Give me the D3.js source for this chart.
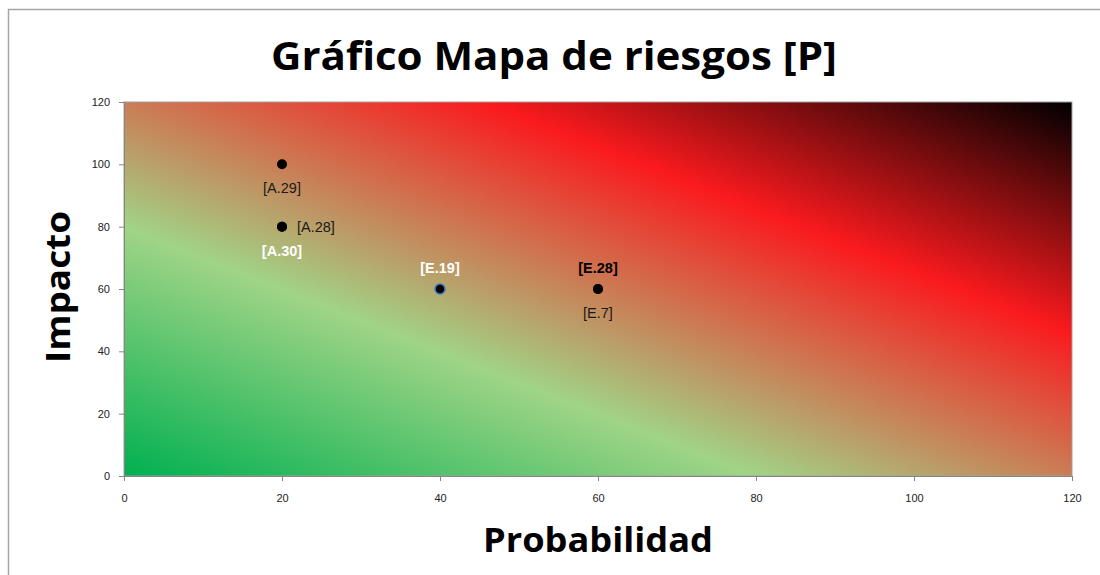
<!DOCTYPE html>
<html>
<head>
<meta charset="utf-8">
<script src="https://cdn.jsdelivr.net/npm/d3@7"></script>
<style>
  html, body { margin: 0; padding: 0; background: #fff; overflow: hidden; }
  svg { display: block; overflow: hidden; }
</style>
</head>
<body>
<svg id="chart" width="1100" height="575"></svg>
<script>
// Risk points: probability (x) and impact (y)
const labels = ["[A.29]", "[A.28]", "[A.30]", "[E.19]", "[E.28]", "[E.7]"];
const probabilidad = [20, 20, 20, 40, 60, 60];
const impacto = [100, 80, 80, 60, 60, 60];
const labelPos = ["below", "right", "below", "above", "above", "below"];
const labelStyle = ["normal", "normal", "white", "white", "bold", "normal"];

const xTicks = [0, 20, 40, 60, 80, 100, 120];
const yTicks = [0, 20, 40, 60, 80, 100, 120];

// Background gradient stops (green -> light green -> red -> black)
const gradOffsets = [0, 0.333, 0.69, 1];
const gradColors = ["#00b050", "#a0d486", "#fa1a1e", "#000000"];

const svg = d3.select("#chart");
const margin = { left: 124, top: 102, right: 1072, bottom: 476 };

const x = d3.scaleLinear().domain([0, 120]).range([margin.left, margin.right]);
const y = d3.scaleLinear().domain([0, 120]).range([margin.bottom, margin.top]);

// Outer chart frame (left and top edges visible)
svg.append("path")
  .attr("d", "M8.5,580 L8.5,9.5 L1105,9.5")
  .attr("fill", "none").attr("stroke", "#a6a6a6").attr("stroke-width", 1.5);

const defs = svg.append("defs");
const grad = defs.append("linearGradient")
  .attr("id", "riskGrad")
  .attr("gradientUnits", "objectBoundingBox")
  .attr("x1", 0).attr("y1", 1).attr("x2", 1).attr("y2", 0);
grad.selectAll("stop")
  .data(gradOffsets)
  .join("stop")
  .attr("offset", d => d)
  .attr("stop-color", (d, i) => gradColors[i]);

// Plot area
svg.append("rect")
  .attr("x", x(0)).attr("y", y(120))
  .attr("width", x(120) - x(0)).attr("height", y(0) - y(120))
  .attr("fill", "url(#riskGrad)")
  .attr("stroke", "#a0a0a0").attr("stroke-width", 1);

// Axes
const axisFont = "'Liberation Sans', Arial, sans-serif";
const xAxis = svg.append("g")
  .attr("transform", `translate(0,${y(0)})`)
  .call(d3.axisBottom(x).tickValues(xTicks).tickSize(5).tickPadding(13).tickFormat(d3.format("d")));
const yAxis = svg.append("g")
  .attr("transform", `translate(${x(0)},0)`)
  .call(d3.axisLeft(y).tickValues(yTicks).tickSize(5).tickPadding(9).tickFormat(d3.format("d")));
[xAxis, yAxis].forEach(g => {
  g.select(".domain").attr("stroke", "#868686");
  g.selectAll(".tick line").attr("stroke", "#868686");
  g.selectAll(".tick text")
    .attr("fill", "#222")
    .style("font-family", axisFont)
    .style("font-size", "11px");
});

// Points
const pts = labels.map((l, i) => ({
  label: l, px: probabilidad[i], py: impacto[i], pos: labelPos[i], style: labelStyle[i]
}));

svg.append("g").selectAll("circle")
  .data(pts)
  .join("circle")
  .attr("cx", d => x(d.px))
  .attr("cy", d => y(d.py))
  .attr("r", 5)
  .attr("fill", "#000")
  .attr("stroke", d => d.label === "[E.19]" ? "#3c78c8" : "none")
  .attr("stroke-width", 1.5);

svg.append("g").selectAll("text")
  .data(pts)
  .join("text")
  .attr("x", d => d.pos === "right" ? x(d.px) + 15 : x(d.px))
  .attr("y", d => d.pos === "above" ? y(d.py) - 16 : d.pos === "below" ? y(d.py) + 29 : y(d.py) + 5)
  .attr("text-anchor", d => d.pos === "right" ? "start" : "middle")
  .attr("fill", d => d.style === "white" ? "#ffffff" : d.style === "bold" ? "#000" : "#1a1a1a")
  .attr("font-weight", d => d.style === "normal" ? "normal" : "bold")
  .style("font-family", axisFont)
  .style("font-size", "14.5px")
  .text(d => d.label);

// Titles
const titleFont = "'Open Sans', 'Liberation Sans', sans-serif";
svg.append("text")
  .attr("x", 554).attr("y", 70)
  .attr("text-anchor", "middle")
  .attr("font-weight", "bold")
  .attr("textLength", 566).attr("lengthAdjust", "spacingAndGlyphs")
  .style("font-family", titleFont)
  .style("font-size", "40px")
  .text("Gráfico Mapa de riesgos [P]");

svg.append("text")
  .attr("x", (x(0) + x(120)) / 2).attr("y", 552)
  .attr("text-anchor", "middle")
  .attr("font-weight", "bold")
  .attr("textLength", 230).attr("lengthAdjust", "spacingAndGlyphs")
  .style("font-family", titleFont)
  .style("font-size", "34px")
  .text("Probabilidad");

svg.append("text")
  .attr("transform", `translate(70,${(y(0) + y(120)) / 2 - 2}) rotate(-90)`)
  .attr("text-anchor", "middle")
  .attr("font-weight", "bold")
  .attr("textLength", 152).attr("lengthAdjust", "spacingAndGlyphs")
  .style("font-family", titleFont)
  .style("font-size", "34px")
  .text("Impacto");
</script>
</body>
</html>
